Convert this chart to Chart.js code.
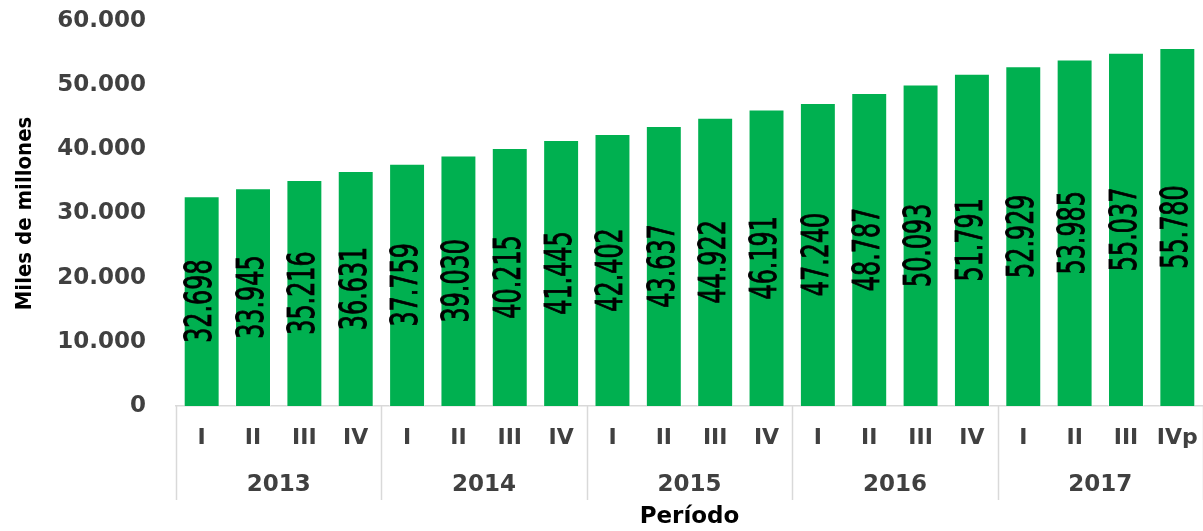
<!DOCTYPE html>
<html>
<head>
<meta charset="utf-8">
<script src="https://cdn.jsdelivr.net/npm/chart.js@4.4.0/dist/chart.umd.min.js"></script>
<style>
  html, body { margin: 0; padding: 0; background: #fff; }
  #wrap { width: 1203px; height: 531px; position: relative; }
</style>
</head>
<body>
<div id="wrap"><canvas id="myChart"></canvas></div>
<script>
const quarters = ['I', 'II', 'III', 'IV', 'I', 'II', 'III', 'IV', 'I', 'II', 'III', 'IV',
                  'I', 'II', 'III', 'IV', 'I', 'II', 'III', 'IVp'];
const years = ['2013', '2014', '2015', '2016', '2017'];
const values = [32698, 33945, 35216, 36631, 37759, 39030, 40215, 41445, 42402, 43637,
                44922, 46191, 47240, 48787, 50093, 51791, 52929, 53985, 55037, 55780];

// 32698 -> "32.698"
function fmt(v) {
    return String(v).replace(/\B(?=(\d{3})+(?!\d))/g, '.');
}

// value labels written inside each bar, turned upright
const barLabels = {
    id: 'barLabels',
    afterDatasetsDraw(chart) {
        const ctx = chart.ctx;
        const meta = chart.getDatasetMeta(0);
        ctx.save();
        ctx.fillStyle = '#000';
        ctx.strokeStyle = '#000';
        ctx.lineWidth = 0.6;
        ctx.font = '26px "DejaVu Sans Condensed", "DejaVu Sans", sans-serif';
        ctx.textAlign = 'center';
        ctx.textBaseline = 'middle';
        meta.data.forEach((bar, i) => {
            ctx.save();
            ctx.translate(bar.x, (bar.y + bar.base) / 2);
            ctx.rotate(-Math.PI / 2);
            ctx.scale(1.02, 1.45); // glyphs are stretched in the original
            ctx.fillText(fmt(values[i]), 0, 0);
            ctx.strokeText(fmt(values[i]), 0, 0);
            ctx.restore();
        });
        ctx.restore();
    }
};

// vertical lines between the years under the axis
const yearLines = {
    id: 'yearLines',
    afterDraw(chart) {
        const ctx = chart.ctx;
        const x2 = chart.scales.x2;
        const top = chart.chartArea.bottom;
        const bottom = x2.top + 49;
        const half = (x2.getPixelForValue(1) - x2.getPixelForValue(0)) / 2;
        ctx.save();
        ctx.strokeStyle = '#d9d9d9';
        ctx.lineWidth = 1.5;
        for (let i = 0; i <= years.length; i++) {
            const px = Math.round(x2.getPixelForValue(i) - half) + 0.5;
            ctx.beginPath();
            ctx.moveTo(px, top);
            ctx.lineTo(px, bottom);
            ctx.stroke();
        }
        ctx.restore();
    }
};

const ctx = document.getElementById('myChart').getContext('2d');
const myChart = new Chart(ctx, {
    type: 'bar',
    data: {
        labels: quarters,
        datasets: [{
            data: values,
            backgroundColor: '#00b050',
            borderColor: 'rgba(255,255,255,0.45)',
            borderWidth: 1,
            barPercentage: 0.70,
            categoryPercentage: 1.0
        }]
    },
    options: {
        responsive: true,
        maintainAspectRatio: false,
        animation: false,
        layout: { padding: { top: 0, right: 0, bottom: 0, left: 0 } },
        plugins: {
            legend: { display: false },
            tooltip: { enabled: false }
        },
        scales: {
            x: {
                position: 'bottom',
                grid: { display: false, drawTicks: false },
                border: { display: true, color: '#d9d9d9', width: 1.5 },
                ticks: {
                    color: '#404040',
                    font: { family: 'DejaVu Sans', size: 22, weight: 'bold' },
                    padding: 19,
                    maxRotation: 0,
                    autoSkip: false
                },
                afterFit(scale) {
                    scale.height = 45;
                    scale.paddingLeft = 0;
                    scale.paddingRight = 0;
                }
            },
            x2: {
                type: 'category',
                labels: years,
                position: 'bottom',
                offset: true,
                grid: { display: false, drawTicks: false },
                border: { display: false },
                ticks: {
                    color: '#404040',
                    font: { family: 'DejaVu Sans', size: 23, weight: 'bold' },
                    padding: 20,
                    maxRotation: 0
                },
                title: {
                    display: true,
                    text: 'Período',
                    color: '#000',
                    font: { family: 'DejaVu Sans', size: 23, weight: 'bold' },
                    padding: { top: 0, bottom: 0 }
                },
                afterFit(scale) {
                    scale.height = 80;
                    scale.paddingLeft = 0;
                    scale.paddingRight = 0;
                }
            },
            y: {
                min: 0,
                max: 60000,
                grid: { display: false, drawTicks: false },
                border: { display: false },
                ticks: {
                    stepSize: 10000,
                    color: '#404040',
                    font: { family: 'DejaVu Sans', size: 23, weight: 'bold' },
                    padding: 30,
                    callback: (v) => fmt(v)
                },
                title: {
                    display: true,
                    text: 'Miles de millones',
                    color: '#000',
                    font: { family: '"DejaVu Sans Condensed", "DejaVu Sans", sans-serif', size: 22, weight: 'bold' },
                    padding: { top: 12, bottom: 0 }
                },
                afterFit(scale) {
                    scale.width = 176;
                    // tick padding is otherwise added above the top label
                    scale.paddingTop = 21;
                    scale.paddingBottom = 13;
                }
            }
        }
    },
    plugins: [barLabels, yearLines]
});
</script>
</body>
</html>
